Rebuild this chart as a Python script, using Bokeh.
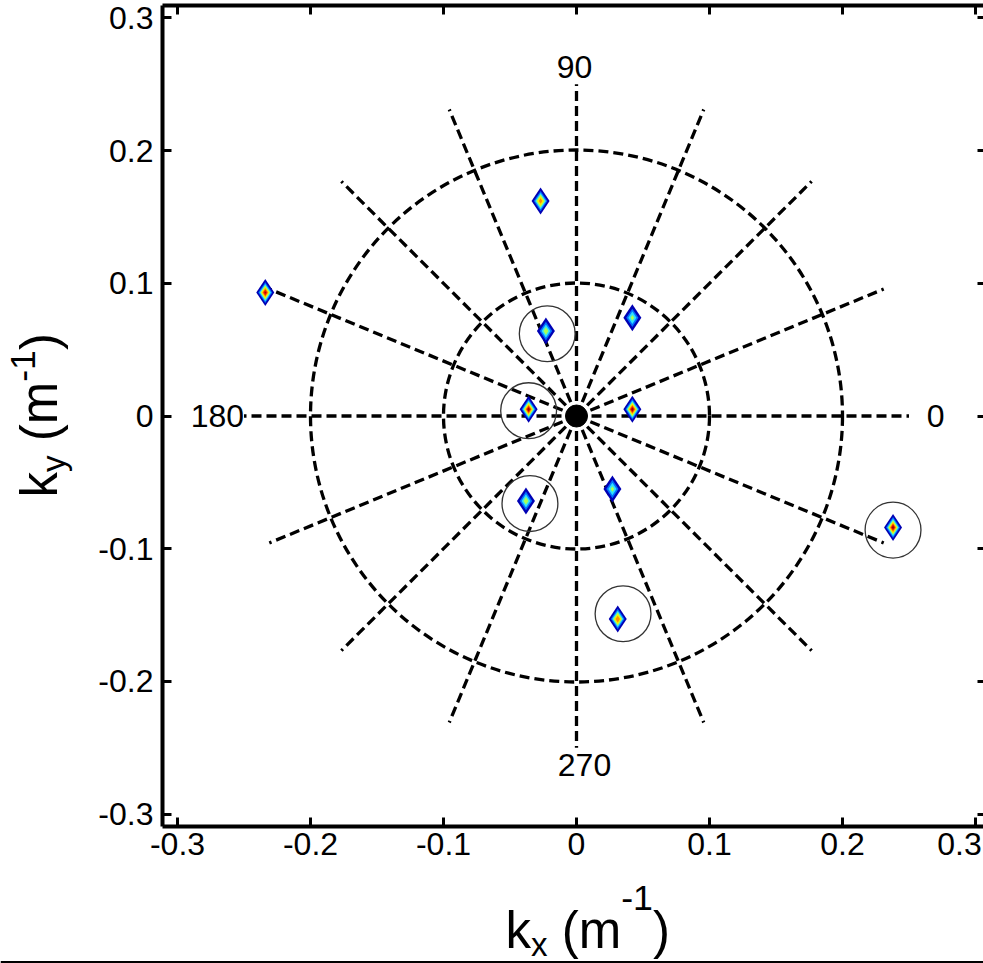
import numpy as np
from bokeh.plotting import figure
from bokeh.models import Range1d, LinearAxis, FixedTicker
from bokeh.core.properties import value
from bokeh.embed import file_html
from bokeh.resources import INLINE

# ---------------- data ----------------
tick_values = [-0.3, -0.2, -0.1, 0, 0.1, 0.2, 0.3]
tick_labels = ["-0.3", "-0.2", "-0.1", "0", "0.1", "0.2", "0.3"]

ring_radii = [0.1, 0.2]
spoke_angles_deg = [0, 22.5, 45, 67.5, 90, 112.5, 135, 157.5,
                    180, 202.5, 225, 247.5, 270, 292.5, 315, 337.5]
spoke_length = 0.25

compass_angles_deg = [0, 90, 180, 270]
compass_labels = ["0", "90", "180", "270"]
compass_label_radius = 0.27

peak_kx = [-0.234, -0.027, -0.023, 0.042, -0.036, 0.042, -0.038, 0.027, 0.031, 0.238]
peak_ky = [0.093, 0.162, 0.064, 0.074, 0.005, 0.005, -0.064, -0.055, -0.153, -0.084]
peak_amp = [0.92, 0.75, 0.50, 0.46, 0.95, 0.95, 0.50, 0.46, 0.80, 0.95]

circled_kx = [-0.022, -0.036, -0.035, 0.035, 0.238]
circled_ky = [0.062, 0.004, -0.066, -0.149, -0.086]
circle_radius = 0.021

contour_levels = [0.06, 0.18, 0.30, 0.42, 0.55, 0.68, 0.80, 0.90]
contour_colors = ["#0000B4", "#0070FF", "#30E0FF", "#A8FF58",
                  "#FFEE00", "#FF9000", "#F02000", "#A00000"]

# ---------------- geometry (canvas pixels) ----------------
FONT = "Liberation Sans"
ASC = 0.905                       # ascent of the font, in em
W, H = 983, 963
PX, PY = 1330.0, 1327.0          # pixels per unit
X0PX, Y0PX = 576.0, 415.5        # canvas pixel of k = 0
def wx2d(px): return (px - X0PX) / PX
def wy2d(py): return (Y0PX - py) / PY

BOX_L, BOX_R, BOX_T, BOX_B = 162, 986, 5, 825.5
TICK_FS = "32px"

p = figure(width=W, height=H,
           x_range=Range1d(wx2d(0), wx2d(W)), y_range=Range1d(wy2d(H), wy2d(0)),
           x_axis_type=None, y_axis_type=None,
           output_backend="svg", toolbar_location=None,
           min_border=0, min_border_left=0, min_border_right=0,
           min_border_top=0, min_border_bottom=0,
           background_fill_color="white", border_fill_color="white",
           outline_line_color=None)
p.grid.visible = False

def make_axis(loc, bounds, ticks, show_labels, minor=None):
    ax = LinearAxis(fixed_location=loc, bounds=bounds)
    ax.ticker = FixedTicker(ticks=ticks, minor_ticks=minor or [])
    ax.axis_line_width = 4
    ax.axis_line_color = "black"
    ax.major_tick_in = 9
    ax.major_tick_out = 0
    ax.major_tick_line_width = 3
    ax.major_tick_line_color = "black"
    if minor:
        ax.minor_tick_in = 9
        ax.minor_tick_out = 0
        ax.minor_tick_line_width = 3
        ax.minor_tick_line_color = "black"
    else:
        ax.minor_tick_line_color = None
    if show_labels:
        ax.major_label_text_font = FONT
        ax.major_label_text_font_size = TICK_FS
        ax.major_label_text_color = "black"
        ax.major_label_overrides = {v: t for v, t in zip(tick_values, tick_labels)}
    else:
        ax.major_label_text_font_size = "1px"
        ax.major_label_text_color = None
        ax.major_label_standoff = 0
    return ax

xb = (wx2d(BOX_L), wx2d(BOX_R))
yb = (wy2d(BOX_B), wy2d(BOX_T))

ax_b = make_axis(wy2d(BOX_B), xb, tick_values[:-1], True, minor=[tick_values[-1]])
ax_b.major_label_standoff = 7
p.add_layout(ax_b, "below")
ax_l = make_axis(wx2d(BOX_L), yb, tick_values, True)
ax_l.major_label_standoff = 9
p.add_layout(ax_l, "left")
p.add_layout(make_axis(wy2d(BOX_T), xb, tick_values, False), "above")
p.add_layout(make_axis(wx2d(BOX_R), yb, tick_values, False), "right")

# last x tick label sits shifted inwards, as in the reference
p.text(x=[tick_values[-1]], y=[wy2d(BOX_B)], text=[tick_labels[-1]],
       x_offset=-16, y_offset=7, text_align="center", text_baseline="top",
       text_font=value(FONT), text_font_size=TICK_FS, text_color="black")

# ---------------- polar grid ----------------
ang = np.deg2rad(np.array(spoke_angles_deg))
p.segment(x0=np.zeros(len(ang)), y0=np.zeros(len(ang)),
          x1=spoke_length * np.cos(ang), y1=spoke_length * np.sin(ang),
          line_color="black", line_width=3.3, line_dash="10 5")
p.circle(x=[0] * len(ring_radii), y=[0] * len(ring_radii), radius=ring_radii,
         fill_color=None, line_color="black", line_width=3.3, line_dash="10 5")
p.scatter(x=[0], y=[0], size=22, marker="circle", fill_color="black", line_color="black")

ca = np.deg2rad(np.array(compass_angles_deg))
compass_nudge_x = [0, -2, 0, 8]
compass_nudge_y = [0, 9, 0, -9]
p.text(x=compass_label_radius * np.cos(ca), y=compass_label_radius * np.sin(ca),
       text=compass_labels, x_offset=compass_nudge_x, y_offset=compass_nudge_y,
       text_align="center", text_baseline="middle",
       text_font=value(FONT), text_font_size="32px", text_color="black")

# ---------------- spectral peaks (nested contour diamonds) ----------------
amp = np.array(peak_amp)
kx = np.array(peak_kx)
ky = np.array(peak_ky)
S = 27.0
for lev, col in zip(contour_levels, contour_colors):
    m = amp > lev
    if not m.any():
        continue
    sz = S * np.sqrt(np.log(amp[m] / lev) / np.log(amp[m] / contour_levels[0]))
    p.scatter(x=kx[m], y=ky[m], size=sz, marker="diamond",
              fill_color=col, line_color=None)

p.circle(x=circled_kx, y=circled_ky, radius=circle_radius,
         fill_color=None, line_color="#333333", line_width=1.3)

# ---------------- axis titles with sub/superscripts ----------------
CW = {"k": 0.5, "x": 0.5, "y": 0.5, " ": 0.278, "(": 0.333, "m": 0.833,
      "-": 0.333, "1": 0.556, ")": 0.333}
def text_w(s, fs):
    return sum(CW[c] for c in s) * fs
def title_pieces(sub, F, sup_raise):
    # (text, font size, baseline shift up, extra gap before)
    return [("k", F, 0.0, 0.0), (sub, 0.65 * F, -0.15 * F, 0.0),
            ("(m", F, 0.0, CW[" "] * F), ("-1", 0.7 * F, sup_raise * F, 0.0),
            (")", F, 0.0, 0.0)]

F = 51
# x title: starts at x=505 px, baseline y=948 px (anchored at the text top)
cum = 0.0
for s, fs, sh, gap in title_pieces("x", F, 0.6):
    cum += gap
    p.text(x=[wx2d(505 + cum)], y=[wy2d(948 - sh - ASC * fs)], text=[s],
           text_align="left", text_baseline="top",
           text_font=value(FONT), text_font_size=f"{fs:.1f}px", text_color="black")
    cum += text_w(s, fs)

# y title: rotated, starts at y=497 px going up, baseline x=57 px
cum = 0.0
for s, fs, sh, gap in title_pieces("y", F, 0.27):
    cum += gap
    p.text(x=[wx2d(57 - sh - ASC * fs)], y=[wy2d(497 - cum)], text=[s], angle=np.pi / 2,
           text_align="left", text_baseline="top",
           text_font=value(FONT), text_font_size=f"{fs:.1f}px", text_color="black")
    cum += text_w(s, fs)

# thin rule along the bottom edge of the picture
p.segment(x0=[wx2d(0)], y0=[wy2d(961.5)], x1=[wx2d(W)], y1=[wy2d(961.5)],
          line_color="black", line_width=2)

open("out.html", "w").write(file_html(p, INLINE))
